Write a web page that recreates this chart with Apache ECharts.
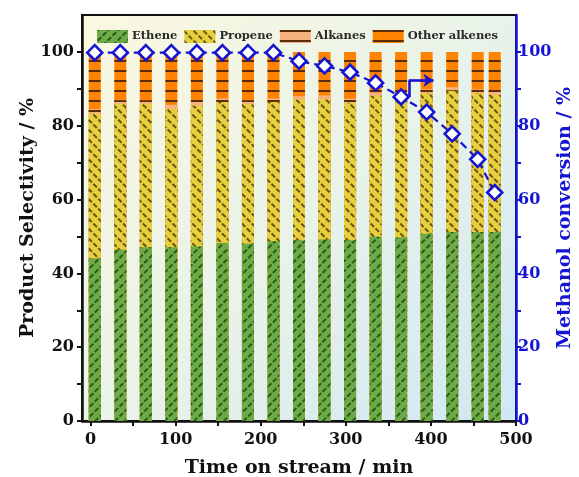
<!DOCTYPE html>
<html><head><meta charset="utf-8">
<script src="https://cdn.jsdelivr.net/npm/echarts@6/dist/echarts.min.js"></script>
<style>html,body{margin:0;padding:0;background:#fff}#c{width:579px;height:477px}</style>
</head><body><div id="c"></div>
<script>
const times        = [5, 35, 65, 95, 125, 155, 185, 215, 245, 275, 305, 335, 365, 395, 425, 455, 475];
const ethene       = [44.1, 46.4, 47.1, 47.1, 47.3, 48.2, 48.0, 48.7, 49.0, 49.2, 49.0, 49.9, 49.7, 50.7, 51.2, 51.2, 51.2];
const propene      = [39.2, 39.5, 38.8, 37.5, 38.1, 38.2, 37.9, 37.7, 38.1, 38.0, 37.2, 38.2, 38.3, 38.2, 38.3, 37.7, 37.2];
const alkanes      = [1.2, 1.0, 1.0, 1.1, 1.0, 1.0, 1.0, 1.0, 0.9, 1.0, 1.1, 0.9, 1.0, 1.0, 0.9, 1.0, 1.0];
const otherAlkenes = [15.5, 13.1, 13.1, 14.3, 13.6, 12.6, 13.1, 12.6, 12.0, 11.8, 12.7, 11.0, 11.0, 10.1, 9.6, 10.1, 10.6];
const conversion   = [99.8, 99.8, 99.8, 99.8, 99.8, 99.8, 99.8, 99.8, 97.5, 96.2, 94.5, 91.6, 87.8, 83.7, 77.8, 70.9, 61.9];
const xTickLabels  = [0, 100, 200, 300, 400, 500];
const xTicks       = [0, 50, 100, 150, 200, 250, 300, 350, 400, 450, 500];
const yTickLabels  = [0, 20, 40, 60, 80, 100];
const yTicks       = [0, 10, 20, 30, 40, 50, 60, 70, 80, 90, 100];
const arrowPath    = [[374, 87.8], [374, 92.3], [403, 92.3]];
const seriesNames  = ['Ethene', 'Propene', 'Alkanes', 'Other alkenes'];

function stackTop(arrs) {
  return times.map((t, i) => [t, +arrs.reduce((s, a) => s + a[i], 0).toFixed(2)]);
}

const FONT = 'DejaVu Serif';
const BLUE = '#1414d2';

const hatch = (color, rot) => ({
  symbol: 'rect', symbolSize: 1, color: color,
  dashArrayX: [[5, 2]], dashArrayY: [1.2, 4.2], rotation: rot
});
const lines = (color) => ({
  symbol: 'rect', symbolSize: 1, color: color,
  dashArrayX: [1, 0], dashArrayY: [1.5, 7.2], rotation: 0
});

const barCommon = { type: 'bar', barWidth: 12, barGap: '-100%', xAxisIndex: 0, yAxisIndex: 0 };

const chart = echarts.init(document.getElementById('c'), null, { renderer: 'canvas' });
chart.setOption({
  animation: false,
  backgroundColor: '#ffffff',
  textStyle: { fontFamily: FONT },
  grid: {
    left: 82, right: 63, top: 15, bottom: 56, show: true,
    containLabel: false, outerBoundsMode: 'none',
    borderColor: '#111', borderWidth: 2,
    backgroundColor: {
      type: 'linear', x: 0, y: 0, x2: 1, y2: 1,
      colorStops: [
        { offset: 0, color: '#fbf8e0' },
        { offset: 0.5, color: '#e9f3e8' },
        { offset: 1, color: '#cfe7f6' }
      ]
    }
  },
  legend: {
    data: seriesNames,
    left: 92, top: 25,
    icon: 'rect', itemWidth: 31, itemHeight: 13, itemGap: 7,
    textStyle: { fontFamily: FONT, fontWeight: 'bold', fontSize: 11.5, color: '#2a2a2a', padding: [0, 0, 0, -1] }
  },
  xAxis: {
    type: 'value', min: -10, max: 500,
    name: 'Time on stream / min', nameLocation: 'middle', nameGap: 38, nameMoveOverlap: false,
    nameTextStyle: { fontFamily: FONT, fontWeight: 'bold', fontSize: 19, color: '#111' },
    axisLine: { show: true, onZero: false, lineStyle: { color: '#111', width: 2.5 } },
    axisTick: { show: true, customValues: xTicks, length: 5, lineStyle: { color: '#111', width: 2 } },
    axisLabel: { customValues: xTickLabels, fontFamily: FONT, fontWeight: 'bold', fontSize: 16, color: '#111', margin: 11 },
    splitLine: { show: false }
  },
  yAxis: [
    {
      type: 'value', min: 0, max: 110,
      name: 'Product Selectivity / %', nameLocation: 'middle', nameGap: 44, nameMoveOverlap: false,
      nameTextStyle: { fontFamily: FONT, fontWeight: 'bold', fontSize: 19, color: '#111' },
      axisLine: { show: true, onZero: false, lineStyle: { color: '#111', width: 2.5 } },
      axisTick: { show: true, customValues: yTicks, length: 5, lineStyle: { color: '#111', width: 2 } },
      axisLabel: { customValues: yTickLabels, fontFamily: FONT, fontWeight: 'bold', fontSize: 16, color: '#111', margin: 8 },
      splitLine: { show: false }
    },
    {
      type: 'value', min: 0, max: 110, position: 'right',
      name: 'Methanol conversion / %', nameLocation: 'middle', nameGap: 40, nameRotate: 90, nameMoveOverlap: false,
      nameTextStyle: { fontFamily: FONT, fontWeight: 'bold', fontSize: 19, color: BLUE },
      axisLine: { show: true, onZero: false, lineStyle: { color: BLUE, width: 2.5 } },
      axisTick: { show: true, customValues: yTicks, length: 5, lineStyle: { color: BLUE, width: 2 } },
      axisLabel: { customValues: yTickLabels, fontFamily: FONT, fontWeight: 'bold', fontSize: 16, color: BLUE, margin: 2 },
      splitLine: { show: false }
    }
  ],
  series: [
    Object.assign({}, barCommon, {
      name: 'Other alkenes', data: stackTop([ethene, propene, alkanes, otherAlkenes]),
      itemStyle: { color: '#ff8200', decal: lines('#5a2c08') }
    }),
    Object.assign({}, barCommon, {
      name: 'Alkanes', data: stackTop([ethene, propene, alkanes]),
      itemStyle: { color: '#f7b37e', decal: lines('#5a2c08') }
    }),
    Object.assign({}, barCommon, {
      name: 'Propene', data: stackTop([ethene, propene]),
      itemStyle: { color: '#e7cf3d', decal: hatch('rgba(70,55,5,0.8)', Math.PI / 4) }
    }),
    Object.assign({}, barCommon, {
      name: 'Ethene', data: stackTop([ethene]),
      itemStyle: { color: '#6daa48', decal: hatch('rgba(25,70,10,0.8)', -Math.PI / 4) }
    }),
    {
      name: 'Methanol conversion', type: 'line', xAxisIndex: 0, yAxisIndex: 1, z: 10,
      data: times.map((t, i) => [t, conversion[i]]),
      lineStyle: { color: BLUE, width: 2.2, type: [8, 5] },
      symbol: 'diamond', symbolSize: 15,
      itemStyle: { color: '#ffffff', borderColor: BLUE, borderWidth: 2.6 },
      markLine: {
        silent: true, symbol: ['none', 'none'], animation: false,
        label: { show: false },
        lineStyle: { color: BLUE, width: 2.6, type: 'solid' },
        data: [
          [{ coord: arrowPath[0] }, { coord: arrowPath[1] }],
          [{ coord: arrowPath[1] }, { coord: arrowPath[2], symbol: 'arrow', symbolSize: 10 }]
        ]
      }
    },
    {
      name: 'conv-dot', type: 'scatter', xAxisIndex: 0, yAxisIndex: 1, z: 11, silent: true,
      data: times.map((t, i) => [t, conversion[i]]),
      symbol: 'emptyCircle', symbolSize: [3, 5],
      itemStyle: { color: '#ffffff', borderColor: BLUE, borderWidth: 1 }
    }
  ]
});
</script>
</body></html>
